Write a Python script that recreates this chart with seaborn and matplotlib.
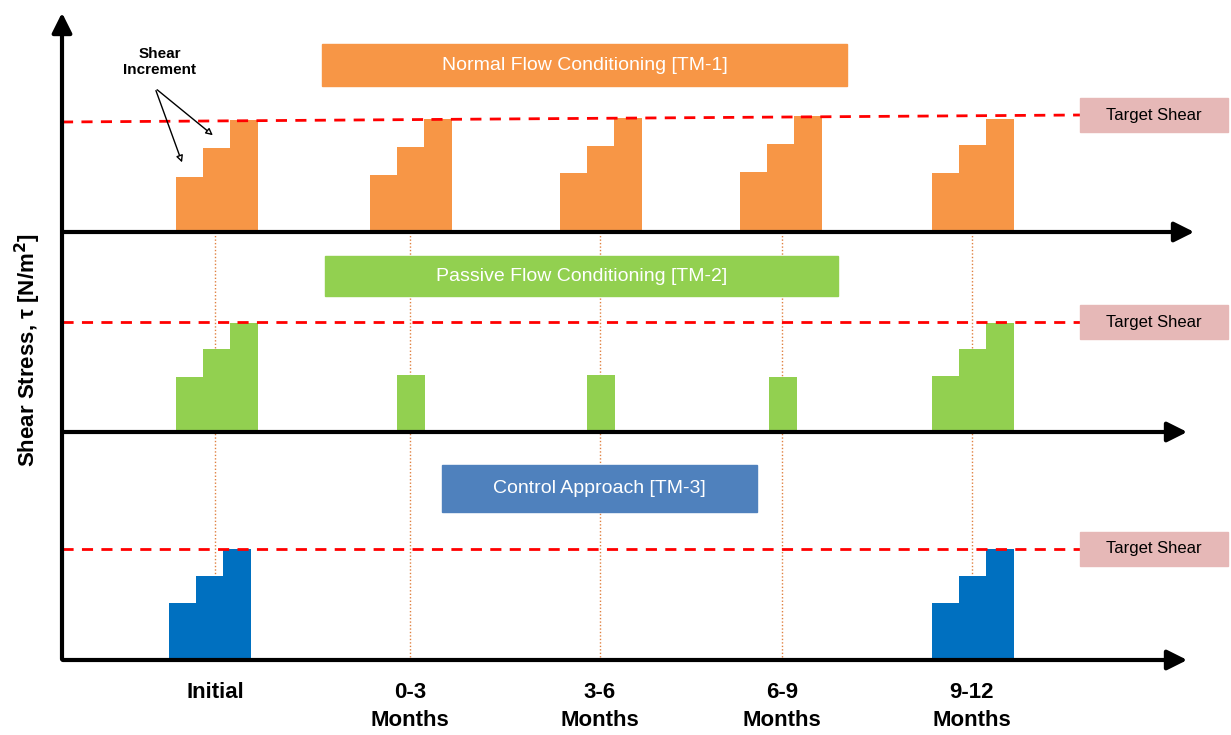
import matplotlib
matplotlib.use("Agg")
import matplotlib.pyplot as plt
import seaborn as sns
from matplotlib.patches import Rectangle, FancyArrowPatch

sns.set_style("white")
plt.rcParams['font.family'] = ['Arial', 'Liberation Sans', 'DejaVu Sans']

periods = ["Initial", "0-3\nMonths", "3-6\nMonths", "6-9\nMonths", "9-12\nMonths"]
period_x = [215, 410, 600, 782, 972]
# step heights (pixels above baseline) per panel and period
orange_steps = [[55, 84, 112], [57, 85, 113], [59, 86, 114], [60, 88, 116], [59, 87, 113]]
green_steps = [[55, 83, 109], [57], [57], [55], [56, 83, 109]]
blue_steps = [[57, 84, 111], [], [], [], [57, 84, 111]]
panel_base = [232, 432, 660]
panel_color = ["#f79646", "#92d050", "#0070c0"]
panel_title = ["Normal Flow Conditioning [TM-1]", "Passive Flow Conditioning [TM-2]", "Control Approach [TM-3]"]
title_box = [(322, 44, 525, 42, "#f79646"), (325, 256, 513, 40, "#92d050"), (442, 465, 315, 47, "#4f81bd")]
target_y = [(122, 115), (322, 322), (549, 549)]
x_offsets = [[-39, -40, -40, -42, -40], [-39, -40, -40, -42, -40], [-46, -40, -40, -42, -40]]

fig = plt.figure(figsize=(12.31, 7.35), dpi=100)
ax = fig.add_axes([0, 0, 1, 1])
ax.set_xlim(0, 1231)
ax.set_ylim(735, 0)
ax.axis("off")

# dotted verticals
for x in period_x:
    ax.plot([x, x], [232, 660], color="#e08040", lw=1, ls=(0, (1, 1.5)), zorder=1)

for p, steps in enumerate([orange_steps, green_steps, blue_steps]):
    base = panel_base[p]
    for i, st in enumerate(steps):
        if not st:
            continue
        w = 27
        if len(st) == 1:
            lefts = [period_x[i] - 13]
        else:
            lefts = [period_x[i] + x_offsets[p][i] + k * w for k in range(len(st))]
        ax.bar(lefts, st, width=w + 0.6, bottom=[base - h for h in st], align="edge",
               color=panel_color[p], lw=0, zorder=2)
    # target line
    ax.plot([62, 1080], list(target_y[p]), color="#ff0000", lw=2, ls=(0, (4, 3)), zorder=3)
    ax.add_patch(Rectangle((1080, target_y[p][1] - 17), 148, 34, color="#e6b8b7", zorder=3))
    ax.text(1154, target_y[p][1], "Target Shear", ha="center", va="center", fontsize=12, color="black", zorder=4)
    # title box
    bx, by, bw, bh, bc = title_box[p]
    ax.add_patch(Rectangle((bx, by), bw, bh, color=bc, zorder=3))
    ax.text(bx + bw / 2, by + bh / 2, panel_title[p], ha="center", va="center", fontsize=14, color="white", zorder=4)

# axes arrows
arrow_kw = dict(arrowstyle="-|>,head_length=0.8,head_width=0.4", color="black", lw=3, mutation_scale=15, zorder=5)
ax.add_patch(FancyArrowPatch((62, 662), (62, 10), **arrow_kw))
for y, xe in zip(panel_base, [1197, 1190, 1190]):
    ax.add_patch(FancyArrowPatch((60, y), (xe, y), **arrow_kw))

# x labels
for x, lab in zip(period_x, periods):
    ax.text(x, 682, lab, ha="center", va="top", fontsize=16, fontweight="bold", linespacing=1.45, color="black")

ax.text(28, 350, "Shear Stress, τ [N/m$^\\mathbf{2}$]", rotation=90, ha="center", va="center",
        fontsize=16, fontweight="bold", color="black")

# annotation
ax.text(160, 62, "Shear\nIncrement", ha="center", va="center", fontsize=11, fontweight="bold", color="black")
for tgt in [(183, 165), (215, 137)]:
    ax.annotate("", xy=tgt, xytext=(155, 88),
                arrowprops=dict(arrowstyle="-|>", color="black", lw=1, fc="white"))

fig.savefig("out.png", dpi=100)
